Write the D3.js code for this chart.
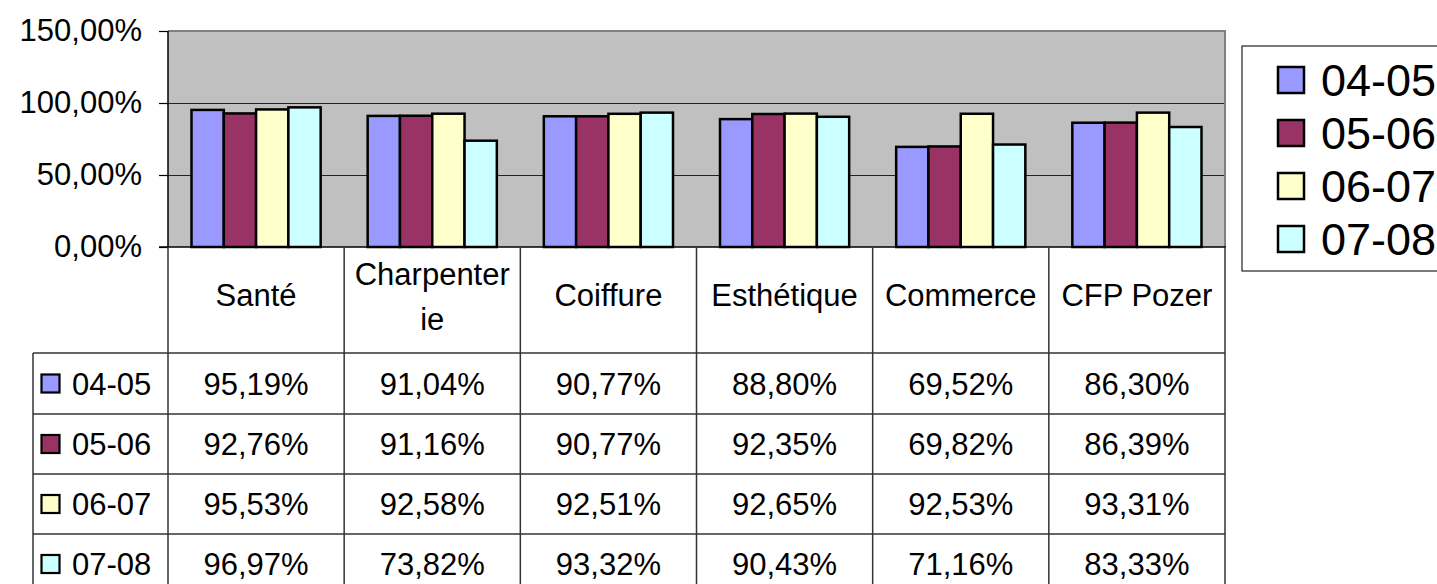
<!DOCTYPE html>
<html>
<head>
<meta charset="utf-8">
<script src="https://cdn.jsdelivr.net/npm/d3@7"></script>
<style>
  html, body { margin: 0; padding: 0; background: #fff; }
  svg { display: block; font-family: "Liberation Sans", Arial, sans-serif; }
</style>
</head>
<body>
<svg id="chart" width="1437" height="584"></svg>
<script>
// ---- data ----
const categories = ["Santé", "Charpenterie", "Coiffure", "Esthétique", "Commerce", "CFP Pozer"];
const headerLines = [["Santé"], ["Charpenter", "ie"], ["Coiffure"], ["Esthétique"], ["Commerce"], ["CFP Pozer"]];
const seriesNames = ["04-05", "05-06", "06-07", "07-08"];
const s0405 = [0.9519, 0.9104, 0.9077, 0.8880, 0.6952, 0.8630];
const s0506 = [0.9276, 0.9116, 0.9077, 0.9235, 0.6982, 0.8639];
const s0607 = [0.9553, 0.9258, 0.9251, 0.9265, 0.9253, 0.9331];
const s0708 = [0.9697, 0.7382, 0.9332, 0.9043, 0.7116, 0.8333];
const yTicks = [0, 0.5, 1.0, 1.5];
const seriesColors = ["#9999FF", "#993366", "#FFFFCC", "#CCFFFF"];

const seriesValues = [s0405, s0506, s0607, s0708];

// ---- layout ----
const plotL = 168, plotR = 1225, plotT = 31, plotB = 247;
const rowLines = [353, 414, 474, 534, 594];
const tableL = 33;
const FONT = 31;

const loc = d3.formatLocale({decimal: ",", thousands: " ", grouping: [3], currency: ["", " €"]});
const fmt = loc.format(".2%");

const svg = d3.select("#chart");

const x0 = d3.scaleBand().domain(categories).range([plotL, plotR]).paddingInner(0).paddingOuter(0);
const groupPad = 23.5;
const x1 = d3.scaleBand().domain(seriesNames).range([groupPad, x0.bandwidth() - groupPad]).padding(0);
const y = d3.scaleLinear().domain([0, 1.5]).range([plotB, plotT]);

// plot background
svg.append("rect").attr("x", plotL).attr("y", plotT).attr("width", plotR - plotL).attr("height", plotB - plotT)
  .attr("fill", "#C0C0C0");

// gridlines
svg.append("g").selectAll("line").data(yTicks.filter(d => d > 0 && d < 1.5)).join("line")
  .attr("x1", plotL).attr("x2", plotR)
  .attr("y1", d => Math.round(y(d)) + 0.5).attr("y2", d => Math.round(y(d)) + 0.5)
  .attr("stroke", "#222").attr("stroke-width", 1);

// top & right border
svg.append("line").attr("x1", plotL).attr("x2", plotR + 1).attr("y1", plotT).attr("y2", plotT)
  .attr("stroke", "#808080").attr("stroke-width", 2);
svg.append("line").attr("x1", plotR).attr("x2", plotR).attr("y1", plotT).attr("y2", plotB)
  .attr("stroke", "#808080").attr("stroke-width", 2);

// bars
const data = [];
categories.forEach((c, i) => seriesNames.forEach((s, j) => data.push({c, s, v: seriesValues[j][i], j})));
svg.append("g").selectAll("rect").data(data).join("rect")
  .attr("x", d => x0(d.c) + x1(d.s))
  .attr("y", d => y(d.v))
  .attr("width", x1.bandwidth())
  .attr("height", d => y(0) - y(d.v))
  .attr("fill", d => seriesColors[d.j])
  .attr("stroke", "#000").attr("stroke-width", 2.5);

// y axis
const yAxis = d3.axisLeft(y).tickValues(yTicks).tickFormat(fmt).tickSize(9).tickPadding(17);
const gy = svg.append("g").attr("transform", `translate(${plotL},0)`).call(yAxis);
gy.select(".domain").attr("stroke", "#000").attr("stroke-width", 1.5).attr("d", `M0,${plotT}V${plotB}`);
gy.selectAll(".tick line").attr("stroke", "#000").attr("stroke-width", 1.2);
gy.selectAll(".tick text").attr("font-size", FONT).attr("fill", "#000")
  .attr("font-family", '"Liberation Sans", Arial, sans-serif').attr("dy", "0.30em");

// ---- data table ----
const tg = svg.append("g");
const lineCol = "#333";
tg.append("line").attr("x1", plotL - 9).attr("x2", plotR + 1).attr("y1", plotB).attr("y2", plotB)
  .attr("stroke", "#000").attr("stroke-width", 1.5);
const vx = [plotL].concat(categories.map(c => x0(c) + x0.bandwidth()));
tg.selectAll("line.v").data(vx).join("line").attr("class", "v")
  .attr("x1", d => d).attr("x2", d => d).attr("y1", plotB).attr("y2", 600)
  .attr("stroke", lineCol).attr("stroke-width", 1.5);
tg.append("line").attr("x1", tableL).attr("x2", tableL).attr("y1", rowLines[0]).attr("y2", 600)
  .attr("stroke", lineCol).attr("stroke-width", 1.5);
tg.selectAll("line.h").data(rowLines.slice(0, 4)).join("line").attr("class", "h")
  .attr("x1", tableL).attr("x2", plotR)
  .attr("y1", d => d).attr("y2", d => d)
  .attr("stroke", lineCol).attr("stroke-width", 1.5);

// headers
const hdr = tg.selectAll("text.hdr").data(categories).join("text").attr("class", "hdr")
  .attr("text-anchor", "middle").attr("font-size", FONT).attr("fill", "#000");
hdr.each(function(c, i) {
  const lines = headerLines[i];
  const cx = x0(c) + x0.bandwidth() / 2;
  const t = d3.select(this);
  if (lines.length === 1) {
    t.append("tspan").attr("x", cx).attr("y", 306).text(lines[0]);
  } else {
    t.append("tspan").attr("x", cx).attr("y", 285).text(lines[0]);
    t.append("tspan").attr("x", cx).attr("y", 330).text(lines[1]);
  }
});

// rows
seriesNames.forEach((s, j) => {
  const cy = (rowLines[j] + rowLines[j + 1]) / 2;
  tg.append("rect").attr("x", 41.5).attr("y", cy - 9).attr("width", 18).attr("height", 18)
    .attr("fill", seriesColors[j]).attr("stroke", "#000").attr("stroke-width", 2.2);
  tg.append("text").attr("x", 72).attr("y", cy + 11).attr("font-size", FONT).attr("fill", "#000").text(s);
  tg.selectAll(null).data(seriesValues[j]).join("text")
    .attr("x", (d, i) => x0(categories[i]) + x0.bandwidth() / 2)
    .attr("y", cy + 11)
    .attr("text-anchor", "middle").attr("font-size", FONT).attr("fill", "#000")
    .text(d => fmt(d));
});

// ---- legend ----
const lg = svg.append("g");
lg.append("rect").attr("x", 1242).attr("y", 46).attr("width", 240).attr("height", 225)
  .attr("fill", "#fff").attr("stroke", "#222").attr("stroke-width", 1.2);
seriesNames.forEach((s, j) => {
  const cy = 80 + j * 53;
  lg.append("rect").attr("x", 1278).attr("y", cy - 13).attr("width", 26).attr("height", 26)
    .attr("fill", seriesColors[j]).attr("stroke", "#000").attr("stroke-width", 2.5);
  lg.append("text").attr("x", 1321).attr("y", cy + 16).attr("font-size", 45).attr("fill", "#000").text(s);
});
</script>
</body>
</html>
